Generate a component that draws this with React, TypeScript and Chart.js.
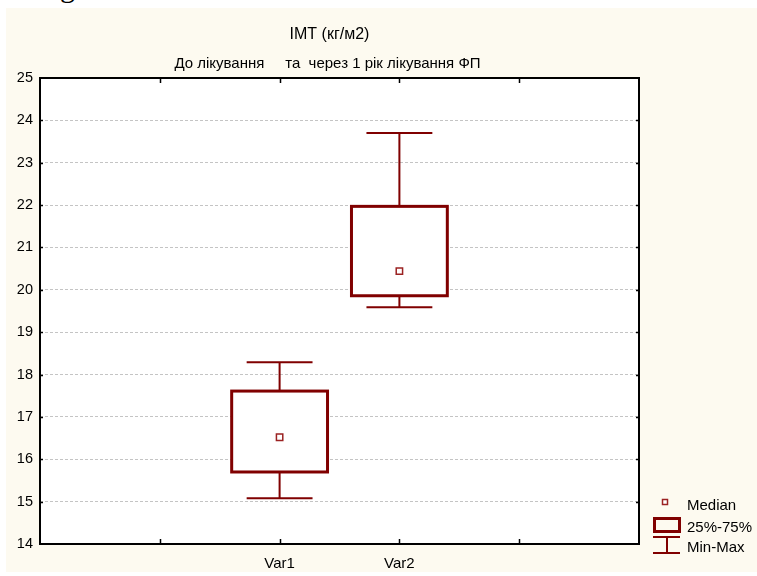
import React, { useEffect, useRef } from "react";
import { Chart, registerables } from "chart.js";

Chart.register(...registerables);

const categories = ["Var1", "Var2"];
const categoryPositions = [2, 3];
const minValues = [15.08, 19.59];
const q1Values = [15.7, 19.86];
const medianValues = [16.52, 20.44];
const q3Values = [17.61, 21.97];
const maxValues = [18.29, 23.7];
const yMin = 14;
const yMax = 25;
const xMin = 0;
const xMax = 5;

const titleText = "IMT (кг/м2)";
const subtitleText = "До лікування     та  через 1 рік лікування ФП";
const legendLabels = ["Median", "25%-75%", "Min-Max"];

const FONT = "'Liberation Sans', Arial, sans-serif";
const DARK_RED = "#800000";
const MEDIAN_RED = "#9b2222";

const boxPlugin = {
  id: "boxPlugin",
  beforeDraw(chart: any) {
    const { ctx, chartArea } = chart;
    ctx.save();
    ctx.fillStyle = "#ffffff";
    ctx.fillRect(chartArea.left, chartArea.top, chartArea.right - chartArea.left, chartArea.bottom - chartArea.top);
    ctx.restore();
  },
  beforeDatasetsDraw(chart: any) {
    const { ctx } = chart;
    const xs = chart.scales.x;
    const ys = chart.scales.y;
    ctx.save();
    categoryPositions.forEach((pos, i) => {
      const cx = xs.getPixelForValue(pos);
      const bl = xs.getPixelForValue(pos - 0.4);
      const br = xs.getPixelForValue(pos + 0.4);
      const cl = xs.getPixelForValue(pos - 0.275);
      const cr = xs.getPixelForValue(pos + 0.275);
      const yMinP = ys.getPixelForValue(minValues[i]);
      const yQ1 = ys.getPixelForValue(q1Values[i]);
      const yQ3 = ys.getPixelForValue(q3Values[i]);
      const yMaxP = ys.getPixelForValue(maxValues[i]);
      ctx.strokeStyle = DARK_RED;
      ctx.lineWidth = 2;
      ctx.beginPath();
      ctx.moveTo(cx, yQ3);
      ctx.lineTo(cx, yMaxP);
      ctx.moveTo(cl, yMaxP);
      ctx.lineTo(cr, yMaxP);
      ctx.moveTo(cx, yQ1);
      ctx.lineTo(cx, yMinP);
      ctx.moveTo(cl, yMinP);
      ctx.lineTo(cr, yMinP);
      ctx.stroke();
      ctx.fillStyle = "#ffffff";
      ctx.fillRect(bl, yQ3, br - bl, yQ1 - yQ3);
      ctx.lineWidth = 3;
      ctx.strokeRect(bl, yQ3, br - bl, yQ1 - yQ3);
    });
    ctx.restore();
  },
  afterDraw(chart: any) {
    const { ctx, chartArea } = chart;
    const xs = chart.scales.x;
    const ys = chart.scales.y;
    const { left, right, top, bottom } = chartArea;
    ctx.save();
    // frame
    ctx.strokeStyle = "#000000";
    ctx.lineWidth = 2;
    ctx.strokeRect(left, top, right - left, bottom - top);
    ctx.lineWidth = 1.5;
    ctx.beginPath();
    for (let v = xMin + 1; v < xMax; v++) {
      const px = Math.round(xs.getPixelForValue(v)) + 0.5;
      ctx.moveTo(px, top);
      ctx.lineTo(px, top + 5);
      ctx.moveTo(px, bottom);
      ctx.lineTo(px, bottom - 5);
    }
    for (let v = yMin + 1; v < yMax; v++) {
      const py = Math.round(ys.getPixelForValue(v)) + 0.5;
      ctx.moveTo(left, py);
      ctx.lineTo(left + 3, py);
      ctx.moveTo(right, py);
      ctx.lineTo(right - 3, py);
    }
    ctx.stroke();

    // titles
    const cxTitle = (left + right) / 2 - 10;
    ctx.fillStyle = "#000000";
    ctx.textAlign = "center";
    ctx.textBaseline = "middle";
    ctx.font = `16px ${FONT}`;
    ctx.fillText(titleText, cxTitle, top - 43);
    ctx.font = `15px ${FONT}`;
    ctx.fillText(subtitleText, cxTitle - 2, top - 14);

    // legend
    const sx = right + 14;
    const tx = right + 48;
    ctx.textAlign = "left";
    ctx.font = `15px ${FONT}`;
    ctx.fillStyle = "#000000";
    ctx.fillText(legendLabels[0], tx, bottom - 38.5);
    ctx.fillText(legendLabels[1], tx, bottom - 16.5);
    ctx.fillText(legendLabels[2], tx, bottom + 3.5);

    // median symbol
    ctx.strokeStyle = MEDIAN_RED;
    ctx.lineWidth = 1.5;
    ctx.fillStyle = "#ffffff";
    ctx.fillRect(sx + 9.5, bottom - 44.5, 5, 5);
    ctx.strokeRect(sx + 9.5, bottom - 44.5, 5, 5);
    // box symbol
    ctx.strokeStyle = DARK_RED;
    ctx.lineWidth = 3;
    ctx.strokeRect(sx + 1.5, bottom - 25.5, 25, 13);
    // min-max symbol
    ctx.lineWidth = 2;
    ctx.beginPath();
    ctx.moveTo(sx, bottom - 7);
    ctx.lineTo(sx + 27, bottom - 7);
    ctx.moveTo(sx + 14, bottom - 7);
    ctx.lineTo(sx + 14, bottom + 9);
    ctx.moveTo(sx, bottom + 9);
    ctx.lineTo(sx + 27, bottom + 9);
    ctx.stroke();
    ctx.restore();
  },
};

export default function App() {
  const canvasRef = useRef<HTMLCanvasElement | null>(null);

  useEffect(() => {
    if (!canvasRef.current) return;
    const medianPoints = categoryPositions.map((x, i) => ({ x, y: medianValues[i] }));
    const chart = new Chart(canvasRef.current, {
      type: "scatter",
      data: {
        datasets: [
          {
            label: "Median",
            data: medianPoints,
            pointStyle: "rect",
            pointRadius: 4.5,
            pointBorderWidth: 1.5,
            pointBorderColor: MEDIAN_RED,
            pointBackgroundColor: "#ffffff",
          },
        ],
      },
      options: {
        animation: false,
        responsive: false,
        devicePixelRatio: 1,
        events: [],
        layout: { padding: { top: 70, right: 118, left: 0, bottom: 0 } },
        plugins: {
          legend: { display: false },
          tooltip: { enabled: false },
          title: { display: false },
        },
        scales: {
          x: {
            type: "linear",
            min: xMin,
            max: xMax,
            afterFit(scale: any) {
              scale.height = 28;
            },
            grid: { display: false },
            border: { display: false },
            ticks: {
              stepSize: 1,
              padding: 3,
              color: "#000000",
              font: { family: FONT, size: 15 },
              maxRotation: 0,
              autoSkip: false,
              callback: (v: any) => {
                const idx = categoryPositions.indexOf(Number(v));
                return idx >= 0 ? categories[idx] : "";
              },
            },
          },
          y: {
            min: yMin,
            max: yMax,
            afterFit(scale: any) {
              scale.width = 34;
            },
            grid: {
              color: "#c4c4c4",
              lineWidth: 1,
              drawTicks: false,
              tickLength: 0,
            },
            border: { display: false, dash: [3, 2] },
            ticks: {
              stepSize: 1,
              padding: 7,
              color: "#000000",
              font: { family: FONT, size: 14.5 },
            },
          },
        },
      },
      plugins: [boxPlugin],
    } as any);
    return () => chart.destroy();
  }, []);

  return (
    <div
      style={{
        position: "fixed",
        left: 0,
        top: 0,
        width: 757,
        height: 576,
        background: "#ffffff",
        overflow: "hidden",
      }}
    >
      <div
        style={{
          position: "absolute",
          left: 60,
          top: -28,
          fontFamily: "'Liberation Serif', 'Times New Roman', serif",
          fontSize: 30,
          lineHeight: "30px",
          color: "#000",
        }}
      >
        g
      </div>
      <div
        style={{
          position: "absolute",
          left: 6,
          top: 8,
          width: 751,
          height: 564,
          background: "#fdfaf0",
        }}
      >
        <canvas ref={canvasRef} width={751} height={564} style={{ width: 751, height: 564, display: "block" }} />
      </div>
    </div>
  );
}
